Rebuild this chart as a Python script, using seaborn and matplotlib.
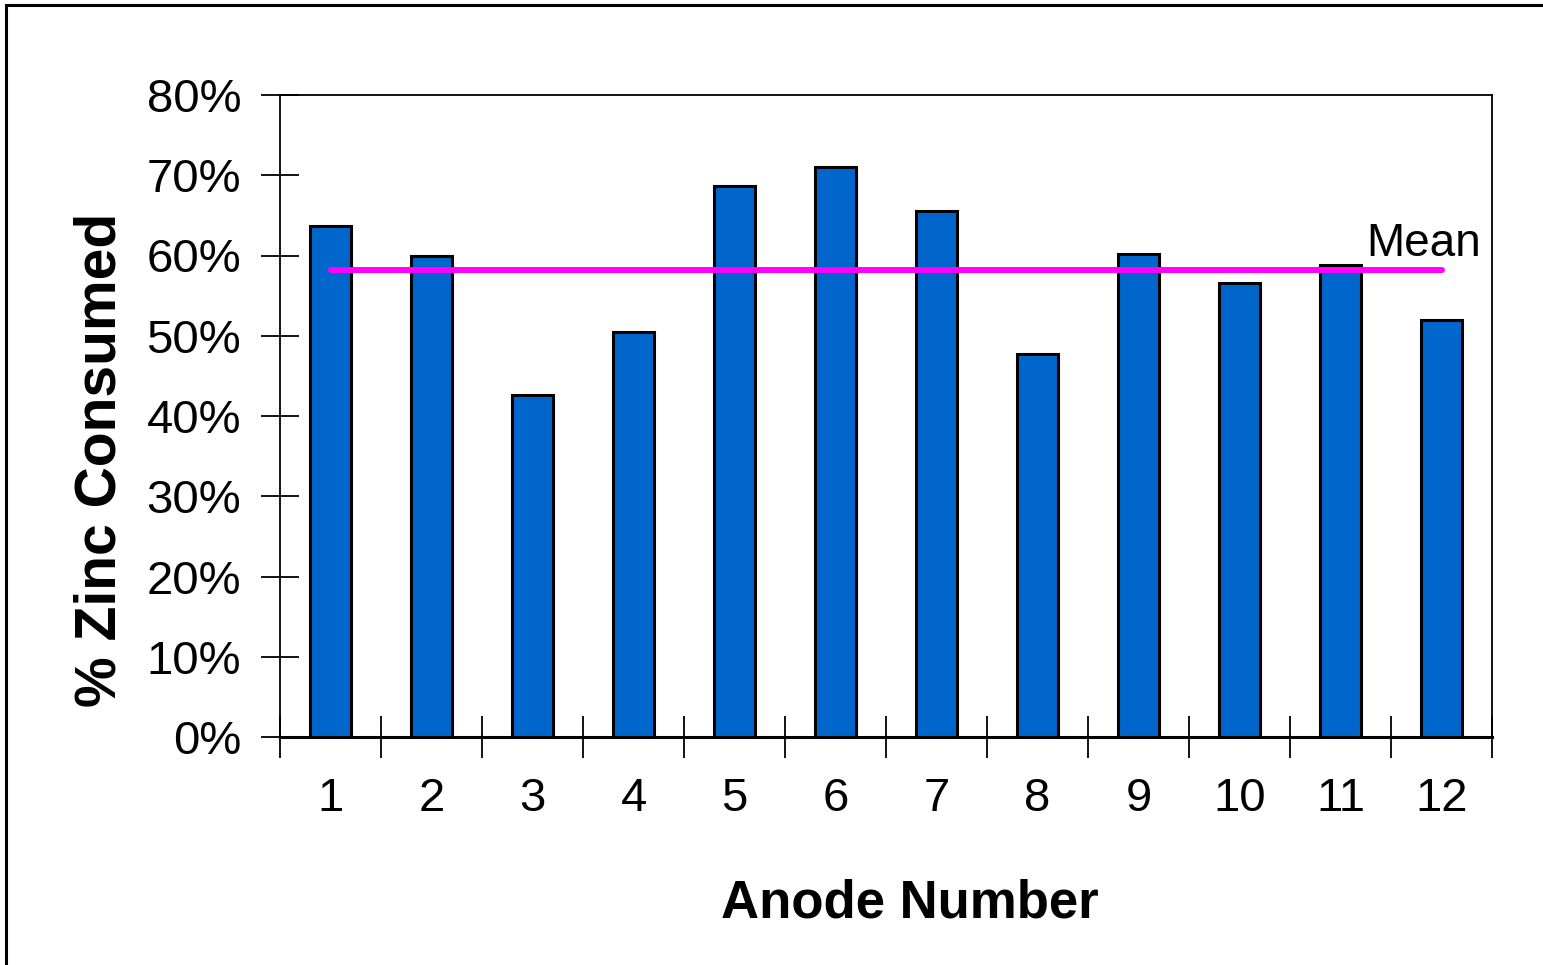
import matplotlib
matplotlib.use("Agg")
import matplotlib.pyplot as plt
import seaborn as sns
import pandas as pd
from matplotlib.patches import Rectangle
from matplotlib.ticker import FixedLocator, PercentFormatter

anodes = ["1", "2", "3", "4", "5", "6", "7", "8", "9", "10", "11", "12"]
consumed = [63.7, 59.9, 42.6, 50.5, 68.7, 71.0, 65.5, 47.7, 60.2, 56.6, 58.8, 52.0]
mean_value = 58.2
yticks = [0, 10, 20, 30, 40, 50, 60, 70, 80]

sns.set_theme(style="white")
plt.rcParams['font.family'] = ['Liberation Sans', 'DejaVu Sans']
plt.rcParams['text.color'] = 'black'
plt.rcParams['axes.labelcolor'] = 'black'
plt.rcParams['xtick.color'] = 'black'
plt.rcParams['ytick.color'] = 'black'

df = pd.DataFrame({"Anode": anodes, "Consumed": consumed})

fig = plt.figure(figsize=(15.43, 9.65), dpi=100)
# outer frame
fig.patches.append(Rectangle((6/1543, -0.05), 1.2, 1 - 5/965 + 0.05, transform=fig.transFigure,
                             fill=False, edgecolor='black', linewidth=2.2, zorder=0))
ax = fig.add_axes([280/1543, 1 - 737/965, (1492 - 280)/1543, (737 - 95)/965])

sns.barplot(data=df, x="Anode", y="Consumed", color="#0066CC", saturation=1,
            width=0.41, edgecolor="black", linewidth=2.2, ax=ax, zorder=3)

ax.plot([0, len(anodes) - 1], [mean_value, mean_value], color="#FF00FF", linewidth=4.3,
        solid_capstyle="round", zorder=4)
ax.text(len(anodes) - 1 + 0.39, mean_value + 0.55, "Mean", ha="right", va="bottom",
        fontsize=33, color="black", zorder=5)

ax.set_ylim(0, 80)
ax.set_xlim(-0.5, len(anodes) - 0.5)
ax.set_yticks(yticks)
ax.yaxis.set_major_formatter(PercentFormatter(decimals=0))

# x ticks at category boundaries, labels at centers
ax.set_xticks(range(len(anodes)))
ax.set_xticklabels(anodes)
ax.xaxis.set_minor_locator(FixedLocator([i - 0.5 for i in range(len(anodes) + 1)]))
ax.tick_params(axis="x", which="major", length=0, pad=29, labelsize=34, labelcolor="black")
ax.tick_params(axis="x", which="minor", direction="inout", length=30, width=1.3, color="black", bottom=True)
ax.tick_params(axis="y", which="major", direction="inout", length=28, width=1.3, color="black",
               pad=14, labelsize=34, left=True, labelcolor="black")

for side in ["left", "right", "top"]:
    ax.spines[side].set_color("black")
    ax.spines[side].set_linewidth(1.3)
ax.spines["bottom"].set_color("black")
ax.spines["bottom"].set_linewidth(2.2)

ax.set_xlabel("Anode Number", fontsize=38, fontweight="bold", color="black")
ax.set_ylabel("% Zinc Consumed", fontsize=41, fontweight="bold", color="black")
ax.xaxis.set_label_coords(0.52, -0.22)
ax.yaxis.set_label_coords(-0.126, 0.432)
ax.grid(False)

fig.savefig("out.png", dpi=100)
